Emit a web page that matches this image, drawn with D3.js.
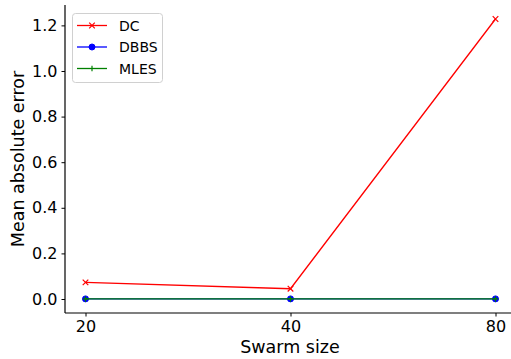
<!DOCTYPE html>
<html>
<head>
<meta charset="utf-8">
<script src="https://cdn.jsdelivr.net/npm/d3@7"></script>
<style>
  html, body { margin: 0; padding: 0; background: #fff; }
  svg { display: block; font-family: "DejaVu Sans", sans-serif; }
</style>
</head>
<body>
<script>
// Swarm sizes tested and mean absolute error per method
const swarmSizes = ["20", "40", "80"];
const dcValues = [0.073, 0.045, 1.228];
const dbbsValues = [0.0005, 0.0005, 0.0005];
const mlesValues = [0.0003, 0.0003, 0.0003];
const yTicks = [0.0, 0.2, 0.4, 0.6, 0.8, 1.0, 1.2];

const series = [
  { name: "DC", values: dcValues, color: "#ff0000", marker: "x" },
  { name: "DBBS", values: dbbsValues, color: "#0000ff", marker: "o" },
  { name: "MLES", values: mlesValues, color: "#008000", marker: "+" }
];

const W = 511, H = 359;
const mLeft = 65, mRight = 516, mTop = 5, mBottom = 313;

const svg = d3.select("body").append("svg").attr("width", W).attr("height", H);

// point scale: 5% margin of a 2-step range = 0.1 step on each side
const x = d3.scalePoint().domain(swarmSizes).range([mLeft, mRight]).padding(0.1);

const yMin = -0.0614, yMax = 1.2894;
const y = d3.scaleLinear().domain([yMin, yMax]).range([mBottom, mTop]);

// Axes
const xAxis = svg.append("g").attr("transform", `translate(0,${mBottom})`)
  .call(d3.axisBottom(x).tickSizeOuter(0).tickSize(3.5).tickPadding(4));
const yAxis = svg.append("g").attr("transform", `translate(${mLeft},0)`)
  .call(d3.axisLeft(y).tickValues(yTicks).tickFormat(d3.format(".1f")).tickSizeOuter(0).tickSize(3.5).tickPadding(4));

[xAxis, yAxis].forEach(g => {
  g.select(".domain").attr("stroke", "#000").attr("stroke-width", 1.2);
  g.selectAll(".tick line").attr("stroke", "#000").attr("stroke-width", 1);
  g.selectAll(".tick text").attr("fill", "#000")
    .style("font-family", "'DejaVu Sans', sans-serif").style("font-size", "16px");
});
xAxis.select(".domain").attr("d", `M${mLeft},0H${mRight}`);
yAxis.select(".domain").attr("d", `M0,${mBottom}V${mTop}`);

// Axis titles
svg.append("text").attr("x", 290).attr("y", 353).attr("text-anchor", "middle")
  .style("font-size", "17.5px").text("Swarm size");
svg.append("text").attr("transform", `translate(24,${(mTop + mBottom) / 2}) rotate(-90)`)
  .attr("text-anchor", "middle").style("font-size", "17.5px").text("Mean absolute error");

// Marker drawing helper
function drawMarker(g, m, cx, cy, color) {
  if (m === "o") {
    g.append("circle").attr("cx", cx).attr("cy", cy).attr("r", 3).attr("fill", color).attr("stroke", color);
  } else if (m === "x") {
    const s = 2.8;
    g.append("path").attr("d", `M${cx - s},${cy - s}L${cx + s},${cy + s}M${cx - s},${cy + s}L${cx + s},${cy - s}`)
      .attr("stroke", color).attr("stroke-width", 1.2).attr("fill", "none");
  } else if (m === "+") {
    const s = 2.8;
    g.append("path").attr("d", `M${cx - s},${cy}L${cx + s},${cy}M${cx},${cy - s}L${cx},${cy + s}`)
      .attr("stroke", color).attr("stroke-width", 1.2).attr("fill", "none");
  }
}

const line = d3.line().x((d, i) => x(swarmSizes[i])).y(d => y(d));
const plot = svg.append("g");
series.forEach(s => {
  plot.append("path").datum(s.values).attr("d", line)
    .attr("fill", "none").attr("stroke", s.color).attr("stroke-width", 1.3);
  s.values.forEach((v, i) => drawMarker(plot, s.marker, x(swarmSizes[i]), y(v), s.color));
});

// Legend
const lg = svg.append("g");
lg.append("rect").attr("x", 72.5).attr("y", 13.5).attr("width", 90).attr("height", 69)
  .attr("rx", 3).attr("fill", "#fff").attr("fill-opacity", 0.8).attr("stroke", "#d0d0d0").attr("stroke-width", 1);
series.forEach((s, i) => {
  const ly = 25.5 + i * 21.5;
  lg.append("line").attr("x1", 77).attr("x2", 107).attr("y1", ly).attr("y2", ly)
    .attr("stroke", s.color).attr("stroke-width", 1.3);
  drawMarker(lg, s.marker, 92, ly, s.color);
  lg.append("text").attr("x", 119).attr("y", ly + 5).style("font-size", "14px").text(s.name);
});
</script>
</body>
</html>
